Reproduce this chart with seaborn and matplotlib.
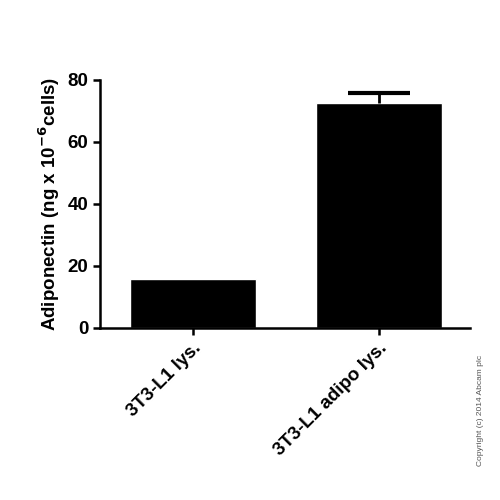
import pandas as pd
import matplotlib.pyplot as plt
import seaborn as sns

# Datos
samples = ['3T3-L1 lys.', '3T3-L1 adipo lys.']
adiponectin = [15.8, 72.6]
sem_up = [0.0, 3.2]

df = pd.DataFrame({'sample': samples, 'adiponectin': adiponectin})

sns.set_style('ticks')
plt.rcParams['font.family'] = ['Liberation Sans', 'DejaVu Sans']
plt.rcParams['font.weight'] = 'bold'
plt.rcParams['text.color'] = 'black'
plt.rcParams['axes.labelcolor'] = 'black'
plt.rcParams['xtick.color'] = 'black'
plt.rcParams['ytick.color'] = 'black'
plt.rcParams['axes.edgecolor'] = 'black'

fig = plt.figure(figsize=(5, 5), dpi=100)
ax = fig.add_axes([0.2, 0.344, 0.74, 0.496])

sns.barplot(data=df, x='sample', y='adiponectin', color='black',
            width=0.68, errorbar=None, saturation=1, ax=ax)

# Barras de error solo hacia arriba (solo donde hay error)
idx = [i for i, e in enumerate(sem_up) if e > 0]
_, caps, _ = ax.errorbar(idx, [adiponectin[i] for i in idx],
                         yerr=[[0] * len(idx), [sem_up[i] for i in idx]],
                         fmt='none', ecolor='black', elinewidth=2, capsize=22, capthick=3)
caps[0].set_visible(False)

ax.set_xlim(-0.5, 1.49)
ax.set_ylim(0, 80)
ax.set_yticks([0, 20, 40, 60, 80])
ax.set_xlabel('')
ax.set_ylabel('Adiponectin (ng x 10$^{\\mathbf{-6}}$cells)', fontsize=13.5, fontweight='bold')

for s in ['top', 'right']:
    ax.spines[s].set_visible(False)
for s in ['left', 'bottom']:
    ax.spines[s].set_linewidth(1.8)
ax.tick_params(width=1.8, length=5, labelsize=13.5)
plt.setp(ax.get_xticklabels(), rotation=45, ha='right', rotation_mode='anchor', fontweight='bold')
plt.setp(ax.get_yticklabels(), fontweight='bold')

fig.text(0.962, 0.18, 'Copyright (c) 2014 Abcam plc', rotation=90, fontsize=6,
         color='#555555', ha='center', va='center', fontweight='normal')

fig.savefig('out.png', dpi=100)
